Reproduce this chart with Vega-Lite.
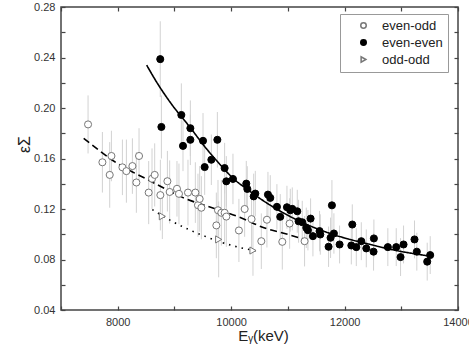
{
  "$schema": "https://vega.github.io/schema/vega-lite/v6.json",
  "width": 397,
  "height": 303,
  "autosize": {"type": "none"},
  "padding": {"left": 61, "top": 7, "right": 11, "bottom": 44},
  "config": {
    "font": "Liberation Sans",
    "view": {"stroke": "#444", "strokeWidth": 1.5},
    "axis": {"grid": false, "domain": false, "tickColor": "#444", "tickWidth": 1.2, "tickSize": -4, "labelColor": "#333", "labelFontSize": 11, "titleFontWeight": "normal", "titleColor": "#222"},
    "legend": {"orient": "none", "legendX": 279, "legendY": 7, "padding": 5, "strokeColor": "#999", "fillColor": "white", "labelFontSize": 13, "labelColor": "#222", "symbolSize": 30, "symbolOffset": 12, "rowPadding": 3, "labelOffset": 12, "title": null}
  },
  "datasets": {
    "pts": [
      {"x": 7477, "y": 0.187, "err": 0.023, "type": "even-odd"},
      {"x": 7730, "y": 0.157, "err": 0.024, "type": "even-odd"},
      {"x": 7859, "y": 0.147, "err": 0.026, "type": "even-odd"},
      {"x": 7889, "y": 0.162, "err": 0.02, "type": "even-odd"},
      {"x": 8083, "y": 0.153, "err": 0.022, "type": "even-odd"},
      {"x": 8153, "y": 0.150, "err": 0.025, "type": "even-odd"},
      {"x": 8259, "y": 0.154, "err": 0.022, "type": "even-odd"},
      {"x": 8329, "y": 0.141, "err": 0.024, "type": "even-odd"},
      {"x": 8376, "y": 0.162, "err": 0.022, "type": "even-odd"},
      {"x": 8546, "y": 0.133, "err": 0.025, "type": "even-odd"},
      {"x": 8605, "y": 0.144, "err": 0.024, "type": "even-odd"},
      {"x": 8652, "y": 0.147, "err": 0.025, "type": "even-odd"},
      {"x": 8752, "y": 0.131, "err": 0.028, "type": "even-odd"},
      {"x": 8876, "y": 0.142, "err": 0.024, "type": "even-odd"},
      {"x": 8916, "y": 0.1335, "err": 0.025, "type": "even-odd"},
      {"x": 9045, "y": 0.136, "err": 0.022, "type": "even-odd"},
      {"x": 9080, "y": 0.132, "err": 0.024, "type": "even-odd"},
      {"x": 9239, "y": 0.133, "err": 0.026, "type": "even-odd"},
      {"x": 9369, "y": 0.133, "err": 0.024, "type": "even-odd"},
      {"x": 9415, "y": 0.123, "err": 0.025, "type": "even-odd"},
      {"x": 9445, "y": 0.128, "err": 0.026, "type": "even-odd"},
      {"x": 9475, "y": 0.121, "err": 0.025, "type": "even-odd"},
      {"x": 9739, "y": 0.107, "err": 0.026, "type": "even-odd"},
      {"x": 9768, "y": 0.119, "err": 0.024, "type": "even-odd"},
      {"x": 9827, "y": 0.117, "err": 0.026, "type": "even-odd"},
      {"x": 9885, "y": 0.117, "err": 0.025, "type": "even-odd"},
      {"x": 9915, "y": 0.114, "err": 0.024, "type": "even-odd"},
      {"x": 10137, "y": 0.103, "err": 0.025, "type": "even-odd"},
      {"x": 10238, "y": 0.120, "err": 0.022, "type": "even-odd"},
      {"x": 10360, "y": 0.112, "err": 0.024, "type": "even-odd"},
      {"x": 10532, "y": 0.0945, "err": 0.022, "type": "even-odd"},
      {"x": 10631, "y": 0.1115, "err": 0.022, "type": "even-odd"},
      {"x": 10902, "y": 0.094, "err": 0.022, "type": "even-odd"},
      {"x": 11031, "y": 0.1085, "err": 0.02, "type": "even-odd"},
      {"x": 11295, "y": 0.0945, "err": 0.02, "type": "even-odd"},
      {"x": 8750, "y": 0.2387, "err": 0.03, "type": "even-even"},
      {"x": 8770, "y": 0.185, "err": 0.025, "type": "even-even"},
      {"x": 9122, "y": 0.1945, "err": 0.025, "type": "even-even"},
      {"x": 9151, "y": 0.170, "err": 0.02, "type": "even-even"},
      {"x": 9281, "y": 0.184, "err": 0.022, "type": "even-even"},
      {"x": 9281, "y": 0.1748, "err": 0.02, "type": "even-even"},
      {"x": 9504, "y": 0.174, "err": 0.022, "type": "even-even"},
      {"x": 9533, "y": 0.1532, "err": 0.022, "type": "even-even"},
      {"x": 9651, "y": 0.159, "err": 0.02, "type": "even-even"},
      {"x": 9757, "y": 0.1748, "err": 0.022, "type": "even-even"},
      {"x": 9885, "y": 0.1524, "err": 0.02, "type": "even-even"},
      {"x": 9915, "y": 0.1419, "err": 0.02, "type": "even-even"},
      {"x": 10032, "y": 0.1438, "err": 0.02, "type": "even-even"},
      {"x": 10267, "y": 0.1401, "err": 0.018, "type": "even-even"},
      {"x": 10285, "y": 0.1359, "err": 0.018, "type": "even-even"},
      {"x": 10397, "y": 0.130, "err": 0.018, "type": "even-even"},
      {"x": 10426, "y": 0.1322, "err": 0.018, "type": "even-even"},
      {"x": 10649, "y": 0.1314, "err": 0.018, "type": "even-even"},
      {"x": 10690, "y": 0.1288, "err": 0.018, "type": "even-even"},
      {"x": 10807, "y": 0.1217, "err": 0.018, "type": "even-even"},
      {"x": 10866, "y": 0.1138, "err": 0.018, "type": "even-even"},
      {"x": 10984, "y": 0.1214, "err": 0.017, "type": "even-even"},
      {"x": 11043, "y": 0.119, "err": 0.017, "type": "even-even"},
      {"x": 11078, "y": 0.1201, "err": 0.017, "type": "even-even"},
      {"x": 11166, "y": 0.1182, "err": 0.017, "type": "even-even"},
      {"x": 11189, "y": 0.1103, "err": 0.017, "type": "even-even"},
      {"x": 11254, "y": 0.1095, "err": 0.017, "type": "even-even"},
      {"x": 11325, "y": 0.1051, "err": 0.016, "type": "even-even"},
      {"x": 11354, "y": 0.1032, "err": 0.016, "type": "even-even"},
      {"x": 11401, "y": 0.1124, "err": 0.016, "type": "even-even"},
      {"x": 11442, "y": 0.0985, "err": 0.016, "type": "even-even"},
      {"x": 11559, "y": 0.1025, "err": 0.016, "type": "even-even"},
      {"x": 11572, "y": 0.0998, "err": 0.016, "type": "even-even"},
      {"x": 11718, "y": 0.0901, "err": 0.016, "type": "even-even"},
      {"x": 11753, "y": 0.0972, "err": 0.016, "type": "even-even"},
      {"x": 11777, "y": 0.1229, "err": 0.02, "type": "even-even"},
      {"x": 11812, "y": 0.1006, "err": 0.016, "type": "even-even"},
      {"x": 11912, "y": 0.0919, "err": 0.015, "type": "even-even"},
      {"x": 12119, "y": 0.0911, "err": 0.015, "type": "even-even"},
      {"x": 12136, "y": 0.1077, "err": 0.016, "type": "even-even"},
      {"x": 12207, "y": 0.0898, "err": 0.015, "type": "even-even"},
      {"x": 12295, "y": 0.0945, "err": 0.015, "type": "even-even"},
      {"x": 12383, "y": 0.0888, "err": 0.015, "type": "even-even"},
      {"x": 12511, "y": 0.0862, "err": 0.015, "type": "even-even"},
      {"x": 12517, "y": 0.0967, "err": 0.015, "type": "even-even"},
      {"x": 12763, "y": 0.0898, "err": 0.015, "type": "even-even"},
      {"x": 12911, "y": 0.0898, "err": 0.015, "type": "even-even"},
      {"x": 12987, "y": 0.0819, "err": 0.015, "type": "even-even"},
      {"x": 13040, "y": 0.0919, "err": 0.015, "type": "even-even"},
      {"x": 13233, "y": 0.0959, "err": 0.015, "type": "even-even"},
      {"x": 13274, "y": 0.0862, "err": 0.015, "type": "even-even"},
      {"x": 13457, "y": 0.0783, "err": 0.015, "type": "even-even"},
      {"x": 13510, "y": 0.0835, "err": 0.015, "type": "even-even"},
      {"x": 8787, "y": 0.1142, "err": 0.018, "type": "odd-odd"},
      {"x": 9780, "y": 0.0959, "err": 0.03, "type": "odd-odd"},
      {"x": 10385, "y": 0.0871, "err": 0.02, "type": "odd-odd"}
    ],
    "fits": [
      {"x": 8510, "y": 0.234, "fit": "even-even"},
      {"x": 8700, "y": 0.2195, "fit": "even-even"},
      {"x": 8950, "y": 0.203, "fit": "even-even"},
      {"x": 9270, "y": 0.185, "fit": "even-even"},
      {"x": 9560, "y": 0.168, "fit": "even-even"},
      {"x": 9850, "y": 0.153, "fit": "even-even"},
      {"x": 10030, "y": 0.1445, "fit": "even-even"},
      {"x": 10270, "y": 0.136, "fit": "even-even"},
      {"x": 10620, "y": 0.125, "fit": "even-even"},
      {"x": 11200, "y": 0.1105, "fit": "even-even"},
      {"x": 11800, "y": 0.0998, "fit": "even-even"},
      {"x": 12380, "y": 0.0927, "fit": "even-even"},
      {"x": 12970, "y": 0.0866, "fit": "even-even"},
      {"x": 13500, "y": 0.0827, "fit": "even-even"},
      {"x": 7400, "y": 0.176, "fit": "even-odd"},
      {"x": 7980, "y": 0.1565, "fit": "even-odd"},
      {"x": 8560, "y": 0.1425, "fit": "even-odd"},
      {"x": 8860, "y": 0.1355, "fit": "even-odd"},
      {"x": 9150, "y": 0.129, "fit": "even-odd"},
      {"x": 9560, "y": 0.1225, "fit": "even-odd"},
      {"x": 10150, "y": 0.1135, "fit": "even-odd"},
      {"x": 10620, "y": 0.1045, "fit": "even-odd"},
      {"x": 10870, "y": 0.1015, "fit": "even-odd"},
      {"x": 11330, "y": 0.0955, "fit": "even-odd"},
      {"x": 8610, "y": 0.1195, "fit": "odd-odd"},
      {"x": 8970, "y": 0.110, "fit": "odd-odd"},
      {"x": 9560, "y": 0.098, "fit": "odd-odd"},
      {"x": 10150, "y": 0.0895, "fit": "odd-odd"},
      {"x": 10500, "y": 0.0865, "fit": "odd-odd"}
    ]
  },
  "layer": [
    {
      "data": {"name": "pts"},
      "mark": {"type": "errorbar", "ticks": false, "rule": {"color": "#d2d2d2", "strokeWidth": 1}},
      "encoding": {
        "x": {"field": "x", "type": "quantitative", "scale": {"domain": [7000, 14000], "nice": false},
          "axis": {"orient": "bottom", "values": [7000, 8000, 9000, 10000, 11000, 12000, 13000, 14000], "labelExpr": "datum.value % 2000 == 0 ? format(datum.value, 'd') : ''", "labelPadding": 10, "labelFlush": false, "labelOverlap": false, "title": "Eᵧ(keV)", "titleFontSize": 15, "titleBaseline": "middle", "titleX": 202, "titleY": 25}},
        "y": {"field": "y", "type": "quantitative", "scale": {"domain": [0.04, 0.28], "nice": false, "zero": false},
          "axis": {"orient": "left", "values": [0.04, 0.06, 0.08, 0.10, 0.12, 0.14, 0.16, 0.18, 0.20, 0.22, 0.24, 0.26, 0.28], "labelExpr": "round(datum.value * 100) % 4 == 0 ? format(datum.value, '.2f') : ''", "labelPadding": 10, "labelFlush": false, "labelOverlap": false, "title": "εΣ", "titleFontSize": 16, "titleAlign": "center", "titleBaseline": "middle", "titleAngle": -90, "titleX": -37, "titleY": 137}},
        "yError": {"field": "err"}
      }
    },
    {
      "data": {"name": "fits"},
      "mark": {"type": "line", "color": "black", "strokeWidth": 1.6, "interpolate": "monotone"},
      "encoding": {
        "x": {"field": "x", "type": "quantitative",
          "axis": {"orient": "top", "values": [7000, 8000, 9000, 10000, 11000, 12000, 13000, 14000], "labels": false, "title": null}},
        "y": {"field": "y", "type": "quantitative",
          "axis": {"orient": "right", "values": [0.04, 0.06, 0.08, 0.10, 0.12, 0.14, 0.16, 0.18, 0.20, 0.22, 0.24, 0.26, 0.28], "labels": false, "title": null}},
        "detail": {"field": "fit"},
        "strokeDash": {"field": "fit", "type": "nominal", "legend": null,
          "scale": {"domain": ["even-even", "even-odd", "odd-odd"], "range": [[1, 0], [7, 4], [1.5, 5]]}}
      }
    },
    {
      "data": {"name": "pts"},
      "mark": {"type": "point", "filled": true, "size": 50, "strokeWidth": 1, "opacity": 1},
      "encoding": {
        "x": {"field": "x", "type": "quantitative", "axis": null},
        "y": {"field": "y", "type": "quantitative", "axis": null},
        "shape": {"field": "type", "type": "nominal", "scale": {"domain": ["even-odd", "even-even", "odd-odd"], "range": ["circle", "circle", "triangle-right"]}},
        "fill": {"field": "type", "type": "nominal", "scale": {"domain": ["even-odd", "even-even", "odd-odd"], "range": ["white", "black", "white"]}},
        "stroke": {"field": "type", "type": "nominal", "scale": {"domain": ["even-odd", "even-even", "odd-odd"], "range": ["#777", "black", "#777"]}}
      }
    }
  ],
  "resolve": {"axis": {"x": "independent", "y": "independent"}}
}
